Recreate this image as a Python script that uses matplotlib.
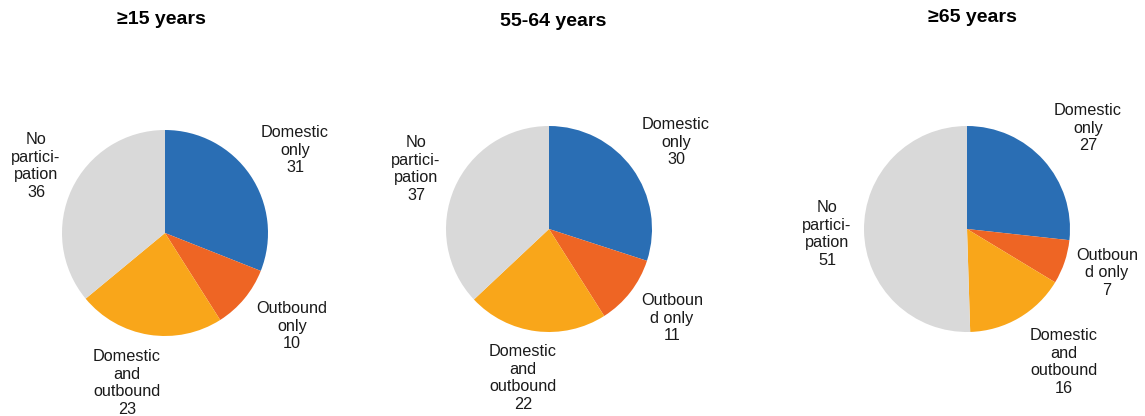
import matplotlib.pyplot as plt

plt.rcParams['font.family'] = ['Liberation Sans', 'DejaVu Sans']

# participation shares (%) per age group, clockwise from 12 o'clock
groups = ['≥15 years', '55-64 years', '≥65 years']
domestic_only = [31, 30, 27]
outbound_only = [10, 11, 7]
domestic_and_outbound = [23, 22, 16]
no_participation = [36, 37, 51]

# label text for each wedge (line breaks as printed)
label_names = [
    ['Domestic\nonly', 'Outbound\nonly', 'Domestic\nand\noutbound', 'No\npartici-\npation'],
    ['Domestic\nonly', 'Outboun\nd only', 'Domestic\nand\noutbound', 'No\npartici-\npation'],
    ['Domestic\nonly', 'Outboun\nd only', 'Domestic\nand\noutbound', 'No\npartici-\npation'],
]
colors = ['#2A6EB4', '#EE6524', '#F9A61A', '#D9D9D9']

W, H = 1145, 416
fig = plt.figure(figsize=(W / 100, H / 100), dpi=100)

# pie centres and radius in pixels
centres = [(165, 233), (549, 229), (967, 229)]
radius = 103
title_pos = [(161, 20), (553, 21), (972, 18)]
# label centres in pixels, one per wedge
label_pos = [
    [(295, 150), (292, 326), (127, 383), (36, 166)],
    [(676, 142), (672, 318), (523, 378), (416, 169)],
    [(1088, 128), (1107, 273), (1064, 362), (827, 234)],
]

for i in range(3):
    vals = [domestic_only[i], outbound_only[i], domestic_and_outbound[i], no_participation[i]]
    cx, cy = centres[i]
    ax = fig.add_axes([(cx - radius) / W, (H - cy - radius) / H,
                       2 * radius / W, 2 * radius / H])
    ax.pie(vals, colors=colors, startangle=90, counterclock=False, radius=1)
    ax.set_xlim(-1, 1)
    ax.set_ylim(-1, 1)
    ax.set_aspect('equal')
    ax.axis('off')

    tx, ty = title_pos[i]
    fig.text(tx / W, 1 - ty / H, groups[i], ha='center', va='center',
             fontsize=14, fontweight='bold')

    for name, v, (lx, ly) in zip(label_names[i], vals, label_pos[i]):
        fig.text(lx / W, 1 - ly / H, f'{name}\n{v}', ha='center', va='center',
                 fontsize=11.7, linespacing=1.2, color='#1a1a1a')

fig.savefig('out.png', dpi=100)
